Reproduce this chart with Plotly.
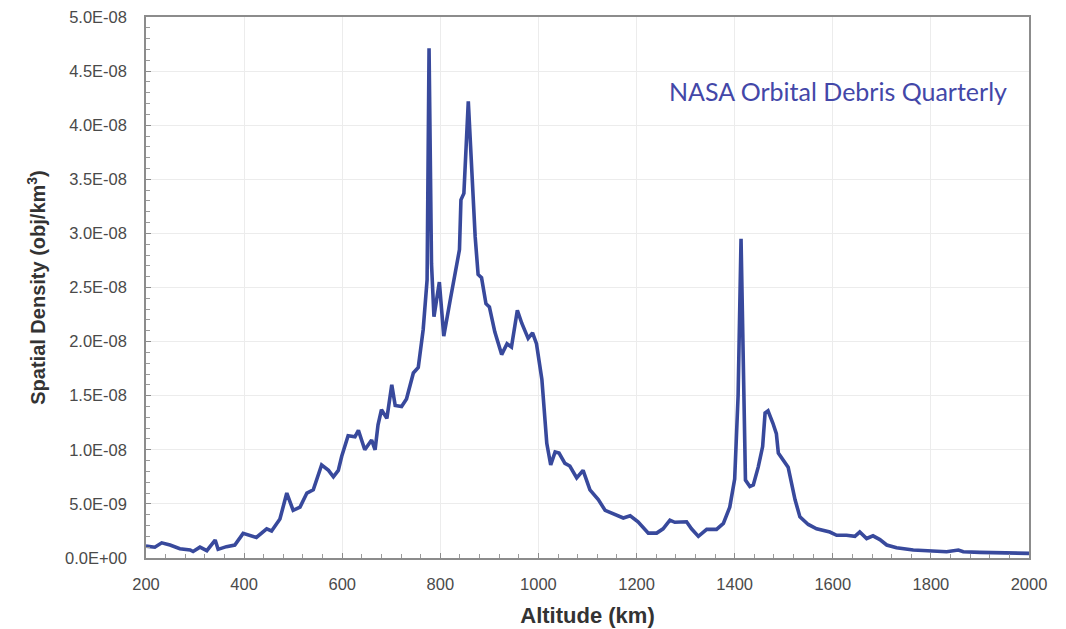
import numpy as np
import plotly.graph_objects as go

# Altitude bins (km) and spatial density (units of 1e-9 obj/km^3)
altitude_km = [
    200, 218, 232, 249, 269, 290, 296, 310, 324, 341, 347, 364, 381, 398, 425,
    446, 456, 473, 487, 500, 514, 528, 541, 558, 572, 582, 592, 599, 612, 626,
    633, 646, 660, 667, 673, 680, 691, 701, 708, 721, 731, 745, 755, 765, 773,
    777, 782, 787, 798, 807, 820, 830, 839, 842, 848, 857, 864, 871, 877, 884,
    893, 900, 911, 925, 936, 945, 957, 966, 979, 988, 996, 1007, 1017, 1025,
    1034, 1042, 1054, 1064, 1078, 1091, 1105, 1122, 1136, 1153, 1173, 1187,
    1203, 1224, 1241, 1254, 1268, 1278, 1302, 1312, 1326, 1343, 1363, 1377,
    1390, 1400, 1407, 1413, 1418, 1422, 1431, 1438, 1448, 1457, 1462, 1468,
    1478, 1485, 1489, 1499, 1509, 1523, 1533, 1550, 1567, 1594, 1608, 1628,
    1645, 1655, 1669, 1682, 1696, 1710, 1730, 1764, 1798, 1832, 1856, 1866,
    1900, 1934, 1968, 2000,
]
density_e9 = [
    1.1, 1.0, 1.4, 1.2, 0.86, 0.74, 0.6, 1.0, 0.68, 1.66, 0.8, 1.05, 1.2, 2.28,
    1.9, 2.7, 2.5, 3.6, 6.0, 4.4, 4.7, 6.0, 6.3, 8.6, 8.1, 7.5, 8.1, 9.4, 11.3,
    11.2, 11.8, 10.0, 10.9, 10.0, 12.3, 13.7, 12.9, 16.0, 14.1, 14.0, 14.7,
    17.1, 17.6, 21.1, 25.7, 47.1, 27.2, 22.3, 25.5, 20.5, 23.8, 26.3, 28.5,
    33.1, 33.7, 42.2, 35.2, 29.7, 26.2, 25.9, 23.5, 23.2, 20.9, 18.8, 19.8,
    19.5, 22.9, 21.7, 20.3, 20.8, 19.8, 16.5, 10.6, 8.6, 9.8, 9.7, 8.75, 8.5,
    7.4, 8.1, 6.3, 5.4, 4.4, 4.1, 3.7, 3.9, 3.35, 2.3, 2.3, 2.7, 3.5, 3.3,
    3.35, 2.7, 2.0, 2.65, 2.65, 3.2, 4.7, 7.3, 15.0, 29.5, 14.0, 7.2, 6.6,
    6.75, 8.4, 10.3, 13.4, 13.6, 12.45, 11.5, 9.7, 9.1, 8.4, 5.4, 3.8, 3.1,
    2.7, 2.4, 2.1, 2.1, 2.0, 2.4, 1.8, 2.05, 1.7, 1.2, 0.95, 0.74, 0.65, 0.58,
    0.74, 0.58, 0.52, 0.49, 0.46, 0.43,
]

x_tick_vals = [200, 400, 600, 800, 1000, 1200, 1400, 1600, 1800, 2000]
y_tick_vals = [0.0, 5e-9, 1e-8, 1.5e-8, 2e-8, 2.5e-8, 3e-8, 3.5e-8, 4e-8, 4.5e-8, 5e-8]
y_tick_text = ["0.0E+00", "5.0E-09", "1.0E-08", "1.5E-08", "2.0E-08", "2.5E-08",
               "3.0E-08", "3.5E-08", "4.0E-08", "4.5E-08", "5.0E-08"]

density = np.array(density_e9) * 1e-9

fig = go.Figure()
fig.add_trace(go.Scatter(
    x=altitude_km, y=density, mode="lines",
    line=dict(color="#38499c", width=3.6),
    showlegend=False,
))

tick_font = dict(family="Liberation Sans, Arial, sans-serif", size=16.5, color="#4a4a4a")
axis_common = dict(
    showline=True, linecolor="#8c8c8c", linewidth=1.5, mirror=True,
    showgrid=True, gridcolor="#ececec", gridwidth=1,
    zeroline=False, ticks="inside", ticklen=5, tickcolor="#8c8c8c",
    tickfont=tick_font, automargin=False,
)

fig.update_xaxes(
    range=[200, 2000], tickvals=x_tick_vals, ticklabelstandoff=10,
    minor=dict(dtick=40, ticks="inside", ticklen=4, tickcolor="#9a9a9a", showgrid=False),
    title=dict(text="<b>Altitude (km)</b>", standoff=16,
               font=dict(family="Liberation Sans, Arial, sans-serif", size=22, color="#333333")),
    **axis_common,
)
fig.update_yaxes(
    range=[0, 5e-8], tickvals=y_tick_vals, ticktext=y_tick_text, ticklabelstandoff=14,
    minor=dict(dtick=1e-9, ticks="inside", ticklen=4, tickcolor="#9a9a9a", showgrid=False),
    title=dict(text="<b>Spatial Density (obj/km<sup>3</sup>)</b>", standoff=14,
               font=dict(family="Liberation Sans, Arial, sans-serif", size=20, color="#333333")),
    **axis_common,
)

fig.add_annotation(
    x=1611, y=4.32e-8, xref="x", yref="y",
    text="NASA Orbital Debris Quarterly", showarrow=False,
    font=dict(family="Lato, sans-serif", size=25, color="#4347a8"),
    xanchor="center", yanchor="middle",
)

fig.update_layout(
    width=1066, height=629,
    margin=dict(l=146, r=37, t=17, b=71, autoexpand=False),
    plot_bgcolor="white", paper_bgcolor="white",
)

fig.write_html("out.html")
